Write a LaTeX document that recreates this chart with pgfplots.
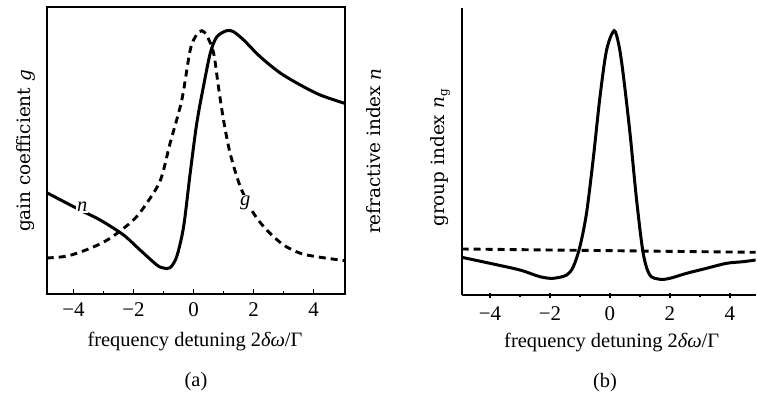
\documentclass[border=0pt]{standalone}
\usepackage{fontspec}
\setmainfont{Liberation Serif}
\newfontfamily\dvs{DejaVu Serif}
\usepackage{pgfplots}
\pgfplotsset{compat=1.18}
\newcommand{\mainf}{\fontsize{20.5}{24}\selectfont}
\newcommand{\tickf}{\fontsize{21}{24}\selectfont}
\newcommand{\ylf}{\dvs\fontsize{18.5}{22}\selectfont}
\begin{document}
\begin{tikzpicture}
\useasboundingbox (0,0) rectangle (757bp,395bp);
\pgfplotsset{
  myax/.style={
    scale only axis,
    xtick={-4,-2,0,2,4},
    xticklabels={−4,−2,0,2,4},
    minor xtick={-3,-1,1,3},
    ytick=\empty,
    tick align=inside,
    xtick pos=bottom,
    major tick length=5bp,
    minor tick length=3bp,
    every tick/.style={line width=1.4bp,black},
    tick label style={font=\tickf},
    xticklabel style={yshift=-5bp},
    axis line style={line width=2bp},
    clip=true,
  }
}
% ---------- panel (a)
\begin{axis}[myax,
  at={(46.7bp,101bp)}, anchor=south west,
  width=297.8bp, height=286.5bp,
  xmin=-4.89, xmax=5.03, ymin=0, ymax=286.5]
\addplot[black, line width=2.9bp, dash pattern=on 7bp off 5bp, smooth, tension=0.5] coordinates {
(-4.89,36) (-4.2,38) (-3.44,45.7) (-2.78,55.7) (-2.0,74) (-1.56,90.7)
(-1.1,114) (-0.78,150.7) (-0.39,194) (-0.11,244) (0.1,259) (0.28,263.3)
(0.45,258) (0.67,241) (0.83,207.3) (1.0,174) (1.22,140.7) (1.56,107.3)
(2.0,80.7) (2.44,64) (3.0,49) (3.56,40.7) (4.1,37.3) (5.03,33.3)};
\addplot[black, line width=3bp, smooth, tension=0.5] coordinates {
(-4.89,101.3) (-3.78,84) (-3.11,74) (-2.33,59) (-1.78,44) (-1.22,29)
(-1.0,26) (-0.78,26.3) (-0.56,37.3) (-0.33,67.3) (-0.11,121) (0.11,171)
(0.33,207.3) (0.56,241) (0.78,257.3) (1.11,263.3) (1.33,262.3) (1.67,254)
(2.22,237.3) (2.89,221) (3.56,209) (4.22,199) (5.03,190.7)};
\node[fill=white, inner sep=1pt, font=\mainf\itshape] at (axis cs:-3.71,87) {n};
\node[fill=white, inner sep=1pt, font=\mainf\itshape] at (axis cs:1.72,91) {g};
\end{axis}
% ---------- panel (b)
\begin{axis}[myax,
  at={(461.7bp,99.7bp)}, anchor=south west,
  width=294bp, height=287.3bp,
  axis x line=bottom, axis y line=left,
  axis line style={-, line width=2bp},
  xmin=-4.94, xmax=4.86, ymin=0, ymax=287.3]
\addplot[black, line width=2.9bp, dash pattern=on 7bp off 5bp] coordinates {
(-4.94,46.3) (4.86,43)};
\addplot[black, line width=3bp, smooth, tension=0.5] coordinates {
(-4.94,38) (-4.0,32) (-3.0,25.3) (-2.33,18.6) (-1.89,17) (-1.44,20.3)
(-1.22,28.6) (-1.0,48.6) (-0.78,82) (-0.56,135.3) (-0.33,198.6) (-0.11,245.3)
(0.14,264.6) (0.3,250) (0.44,222) (0.67,162) (0.89,95.3) (1.11,42)
(1.33,20.3) (1.67,16) (2.0,17) (2.56,22) (3.22,27) (3.89,32) (4.44,33.6) (4.86,35.3)};
\end{axis}
% ---------- labels
\node[font=\mainf] at (195bp,53.3bp) {frequency detuning 2\textit{δω}/Γ};
\node[font=\mainf] at (196bp,13.3bp) {(a)};
\node[font=\mainf] at (611.7bp,52bp) {frequency detuning 2\textit{δω}/Γ};
\node[font=\mainf] at (605bp,12bp) {(b)};
\node[font=\ylf, rotate=90] at (26bp,244bp) {gain coefficient \textit{g}};
\node[font=\ylf, rotate=90] at (374bp,244bp) {refractive index \textit{n}};
\node[font=\ylf, rotate=90] at (440bp,237bp) {group index \textit{n}\raisebox{-0.35ex}{\fontsize{12}{13}\selectfont g}};
\end{tikzpicture}
\end{document}
